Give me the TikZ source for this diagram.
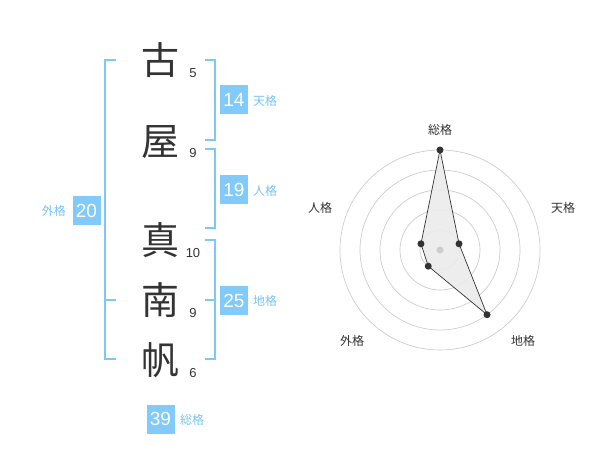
\documentclass[tikz,border=0pt]{standalone}
\usepackage{fontspec}
\setmainfont{Liberation Sans}
\newfontfamily\cjk{Noto Sans CJK JP}
\usetikzlibrary{calc}
\definecolor{boxblue}{RGB}{130,202,250}
\definecolor{lineblue}{RGB}{125,200,245}
\definecolor{lblblue}{RGB}{120,195,245}
\definecolor{ink}{RGB}{51,51,51}
\definecolor{ringgray}{RGB}{205,205,205}
\tikzset{
  kanji/.style={text=ink,font=\cjk\fontsize{38}{38}\selectfont,inner sep=0pt},
  strokes/.style={text=ink,font=\fontsize{13}{13}\selectfont,inner sep=0pt},
  valbox/.style={fill=boxblue,text=white,minimum width=28pt,minimum height=29pt,inner sep=0pt,font=\fontsize{19}{19}\selectfont},
  kaku/.style={text=lblblue,font=\cjk\fontsize{12}{12}\selectfont,inner sep=0pt},
  brk/.style={draw=lineblue,line width=1.6pt},
  ring/.style={draw=ringgray,line width=0.7pt},
  axlbl/.style={text=ink,font=\cjk\fontsize{12}{12}\selectfont,inner sep=0pt},
  dot/.style={circle,fill=ink,inner sep=0pt,minimum size=7pt}
}
\begin{document}
\begin{tikzpicture}[x=1pt,y=-1pt]
\useasboundingbox (0,0) rectangle (600,470);
% kanji
\node[kanji] (k1) at (160,60) {古};
\node[kanji] (k2) at (160,142) {屋};
\node[kanji] (k3) at (160,240) {真};
\node[kanji] (k4) at (160,300) {南};
\node[kanji] (k5) at (160,360) {帆};
% stroke counts
\node[strokes] (s1) at (193,73) {5};
\node[strokes] (s2) at (193,153) {9};
\node[strokes] (s3) at (193,253) {10};
\node[strokes] (s4) at (193,313) {9};
\node[strokes] (s5) at (193,373) {6};
% brackets
\draw[brk] (205,60) -- (215,60) -- (215,140) -- (205,140);
\draw[brk] (205,149) -- (215,149) -- (215,228) -- (205,228);
\draw[brk] (205,240) -- (215,240) -- (215,359) -- (205,359);
\draw[brk] (215,300) -- (205,300);
\draw[brk] (116,60) -- (105,60) -- (105,359) -- (116,359);
\draw[brk] (105,300) -- (116,300);
% values
\node[valbox] (ten) at (234,100) {14};
\node[kaku,anchor=west] (tenl) at (253,101) {天格};
\node[valbox] (jin) at (234,190) {19};
\node[kaku,anchor=west] (jinl) at (253,191) {人格};
\node[valbox] (gai) at (86.5,210.5) {20};
\node[kaku,anchor=east] (gail) at (66,211) {外格};
\node[valbox] (chi) at (234,300.5) {25};
\node[kaku,anchor=west] (chil) at (253,301) {地格};
\node[valbox] (sou) at (160.5,419) {39};
\node[kaku,anchor=west] (soul) at (180,420) {総格};
% radar
\coordinate (c) at (440,250);
\foreach \r in {20,40,60,80,100} \draw[ring] (c) circle (\r);
\coordinate (p1) at ($(c)+(-90:100)$);
\coordinate (p2) at ($(c)+(-18:20)$);
\coordinate (p3) at ($(c)+(54:80)$);
\coordinate (p4) at ($(c)+(126:20)$);
\coordinate (p5) at ($(c)+(198:20)$);
\fill[black!8,opacity=0.9] (p1) -- (p2) -- (p3) -- (p4) -- (p5) -- cycle;
\fill[ringgray] (c) circle (3.5);
\draw[ink,line width=0.7pt] (p1) -- (p2) -- (p3) -- (p4) -- (p5) -- cycle;
\foreach \p in {p1,p2,p3,p4,p5} \node[dot] at (\p) {};
\node[axlbl] (a1) at (440,130) {総格};
\node[axlbl] (a2) at (563,208) {天格};
\node[axlbl] (a3) at (523,341) {地格};
\node[axlbl] (a4) at (352,341) {外格};
\node[axlbl] (a5) at (320,208) {人格};
\end{tikzpicture}
\end{document}
